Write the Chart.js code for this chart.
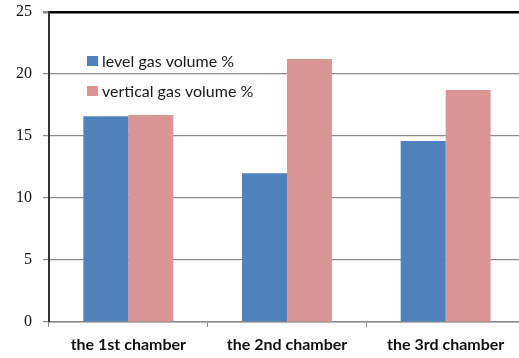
<!DOCTYPE html>
<html>
<head>
<meta charset="utf-8">
<script src="https://cdn.jsdelivr.net/npm/chart.js@4/dist/chart.umd.min.js"></script>
<style>
  html, body { margin: 0; padding: 0; background: #fff; overflow: hidden; }
  #wrap { position: relative; width: 526px; height: 358px; }
</style>
</head>
<body>
<div id="wrap"><canvas id="c"></canvas></div>
<script>
// Chamber categories and gas volume percentages
const chambers = ['the 1st chamber', 'the 2nd chamber', 'the 3rd chamber'];
const levelGas = [16.6, 12.0, 14.6];
const verticalGas = [16.7, 21.2, 18.7];
const seriesNames = ['level gas volume %', 'vertical gas volume %'];
const yTicks = [0, 5, 10, 15, 20, 25];

// Legend drawn inside the plot area, stacked vertically at the top left
const innerLegend = {
  id: 'innerLegend',
  afterDraw(chart) {
    const { ctx, chartArea } = chart;
    ctx.save();
    ctx.font = '16px Lato';
    ctx.textBaseline = 'middle';
    chart.data.datasets.forEach((ds, i) => {
      const cy = chartArea.top + 49 + i * 30;
      const bx = chartArea.left + 38;
      ctx.fillStyle = ds.backgroundColor;
      ctx.fillRect(bx, cy - 5, 11, 10);
      ctx.fillStyle = '#1a1a1a';
      ctx.fillText(ds.label, bx + 15, cy + 1);
    });
    ctx.restore();
  }
};

new Chart(document.getElementById('c'), {
  type: 'bar',
  data: {
    labels: chambers,
    datasets: [
      { label: seriesNames[0], data: levelGas, backgroundColor: '#4f81bd' },
      { label: seriesNames[1], data: verticalGas, backgroundColor: '#d99694' }
    ]
  },
  plugins: [innerLegend],
  options: {
    responsive: true,
    maintainAspectRatio: false,
    animation: false,
    layout: { padding: { left: 0, top: 12, right: 1, bottom: 0 } },
    datasets: { bar: { categoryPercentage: 0.567, barPercentage: 1.0 } },
    plugins: { legend: { display: false }, tooltip: { enabled: false } },
    scales: {
      x: {
        grid: { drawOnChartArea: false, drawTicks: true, tickLength: 5, color: '#8a8a8a', offset: true },
        border: { color: '#8a8a8a', width: 1.5 },
        ticks: { color: '#111', padding: 8, font: { family: 'Lato', size: 16, weight: 'bold' }, maxRotation: 0 },
        afterFit(scale) { scale.height = 36; }
      },
      y: {
        min: 0, max: 25,
        afterBuildTicks(scale) { scale.ticks = yTicks.map(v => ({ value: v })); },
        grid: {
          color: ctx => ctx.tick && ctx.tick.value === 25 ? '#000' : '#8a8a8a',
          lineWidth: ctx => ctx.tick && ctx.tick.value === 25 ? 2.5 : 1.2,
          tickColor: '#8a8a8a',
          tickLength: 6
        },
        border: { color: '#333', width: 2 },
        ticks: { color: '#111', padding: 11, font: { family: 'Liberation Serif', size: 16 } },
        afterFit(scale) {
          scale.width = 49;
          scale.paddingTop = 0;
          scale.paddingBottom = 0;
        }
      }
    }
  }
});
</script>
</body>
</html>
